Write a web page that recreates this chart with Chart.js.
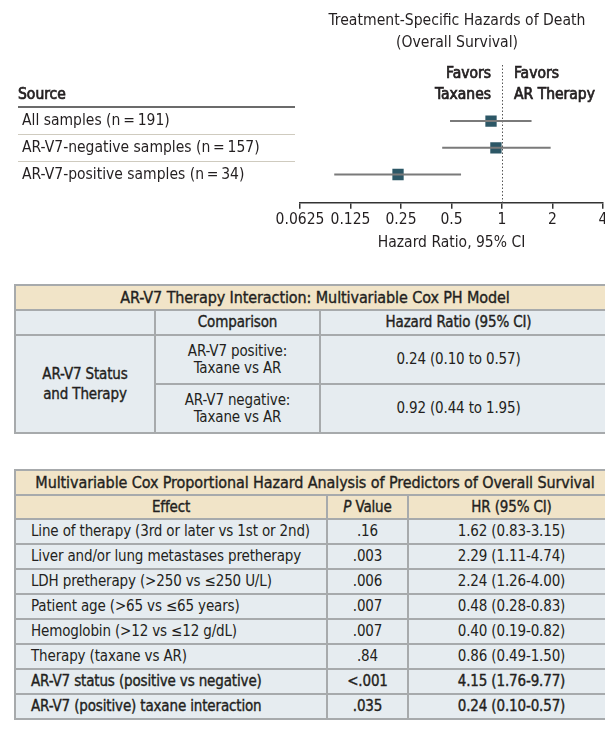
<!DOCTYPE html>
<html>
<head>
<meta charset="utf-8">
<script src="https://cdn.jsdelivr.net/npm/chart.js@4/dist/chart.umd.min.js"></script>
<style>
  html, body { margin: 0; padding: 0; background: #fff; }
  body { width: 605px; height: 740px; overflow: hidden; position: relative;
         font-family: 'Liberation Sans Narrow', 'DejaVu Sans Condensed', 'Roboto', sans-serif; color: #231f20; }
  #forest { position: absolute; left: 0; top: 0; width: 611px; height: 262px; }
  table { position: absolute; left: 14px; border-collapse: collapse; font-size: 15px; table-layout: fixed; letter-spacing: -0.15px; }
  td, th { border: 2px solid #a7aaac; padding: 0; text-align: center; font-weight: normal; line-height: 17px; }
  .semi { -webkit-text-stroke: 0.35px #231f20; }
  .ttl { font-size: 16px; letter-spacing: -0.1px; }
  .beige { background: #f1e4c8; }
  .blue td, td.blue { background: #e6ecf0; }
  #t1 { top: 284px; width: 600px; }
  #t2 { top: 469px; width: 600px; }
  #t2 td.eff { text-align: left; padding-left: 15px; }
  #t2 tr.row td { height: 23px; }
</style>
</head>
<body>
<canvas id="forest" width="611" height="262"></canvas>

<table id="t1">
  <colgroup><col style="width:140px"><col style="width:165px"><col style="width:295px"></colgroup>
  <tbody id="t1body"></tbody>
</table>

<table id="t2">
  <colgroup><col style="width:312px"><col style="width:81px"><col style="width:207px"></colgroup>
  <tbody id="t2body"></tbody>
</table>

<script>
// ─── Dados do forest plot ─────────────────────────────────
const ROW_LABELS = ['All samples (n\u2009=\u2009191)', 'AR-V7-negative samples (n\u2009=\u2009157)', 'AR-V7-positive samples (n\u2009=\u200934)'];
const HR  = [0.86, 0.92, 0.24];
const LO  = [0.49, 0.44, 0.10];
const HI  = [1.50, 1.95, 0.57];
const TICKS = [0.0625, 0.125, 0.25, 0.5, 1, 2, 4];

// ─── Dados das tabelas ───────────────────────────────────
const T1_TITLE = 'AR-V7 Therapy Interaction: Multivariable Cox PH Model';
const T1_GROUP = ['AR-V7 Status', 'and Therapy'];
const T1_COMPARISON = [['AR-V7 positive:', 'Taxane vs AR'], ['AR-V7 negative:', 'Taxane vs AR']];
const T1_HR = ['0.24 (0.10 to 0.57)', '0.92 (0.44 to 1.95)'];

const T2_TITLE = 'Multivariable Cox Proportional Hazard Analysis of Predictors of Overall Survival';
const T2_EFFECT = [
  'Line of therapy (3rd or later vs 1st or 2nd)',
  'Liver and/or lung metastases pretherapy',
  'LDH pretherapy (>250 vs \u2264250 U/L)',
  'Patient age (>65 vs \u226465 years)',
  'Hemoglobin (>12 vs \u226412 g/dL)',
  'Therapy (taxane vs AR)',
  'AR-V7 status (positive vs negative)',
  'AR-V7 (positive) taxane interaction',
];
const T2_P  = ['.16', '.003', '.006', '.007', '.007', '.84', '<.001', '.035'];
const T2_HR = ['1.62 (0.83-3.15)', '2.29 (1.11-4.74)', '2.24 (1.26-4.00)', '0.48 (0.28-0.83)',
               '0.40 (0.19-0.82)', '0.86 (0.49-1.50)', '4.15 (1.76-9.77)', '0.24 (0.10-0.57)'];
const T2_BOLD = [false, false, false, false, false, false, true, true];

const FONT = "'Liberation Sans Narrow', 'DejaVu Sans Condensed', Roboto, sans-serif";
const INK = '#231f20';

// ─── Tabelas ──────────────────────────────────────────────
function buildTables() {
  let h = `<tr class="beige"><td colspan="3" class="semi ttl" style="height:23px">${T1_TITLE}</td></tr>`;
  h += `<tr class="blue"><td style="height:23px"></td><td class="semi">Comparison</td><td class="semi" style="padding-right:18px">Hazard Ratio (95% CI)</td></tr>`;
  T1_COMPARISON.forEach((c, i) => {
    h += '<tr class="blue">';
    if (i === 0) h += `<td rowspan="2" class="semi" style="line-height:20px">${T1_GROUP.join('<br>')}</td>`;
    h += `<td style="height:47px">${c.join('<br>')}</td><td style="padding-right:18px">${T1_HR[i]}</td></tr>`;
  });
  document.getElementById('t1body').innerHTML = h;

  let g = `<tr class="beige"><td colspan="3" class="semi ttl" style="height:23px">${T2_TITLE}</td></tr>`;
  g += `<tr class="beige"><td class="semi" style="height:22px">Effect</td><td class="semi"><i>P</i> Value</td><td class="semi">HR (95% CI)</td></tr>`;
  T2_EFFECT.forEach((e, i) => {
    const s = T2_BOLD[i] ? ' semi' : '';
    g += `<tr class="blue row"><td class="eff${s}">${e}</td><td class="${s}">${T2_P[i]}</td><td class="${s}">${T2_HR[i]}</td></tr>`;
  });
  document.getElementById('t2body').innerHTML = g;
}
buildTables();

// texto "semibold": preenchimento + contorno fino
function semiText(ctx, txt, x, y) {
  ctx.fillText(txt, x, y);
  ctx.strokeText(txt, x, y);
}

// ─── Plugin: rótulos, linhas e cabeçalhos do forest plot ──
const forestDecor = {
  id: 'forestDecor',
  beforeDatasetsDraw(chart) {
    const { ctx, chartArea, scales: { x } } = chart;
    ctx.save();
    // linha pontilhada em HR = 1
    const x1 = Math.round(x.getPixelForValue(1)) + 0.5;
    ctx.strokeStyle = '#555';
    ctx.lineWidth = 1;
    ctx.setLineDash([1.5, 2]);
    ctx.beginPath(); ctx.moveTo(x1, chartArea.top); ctx.lineTo(x1, chartArea.bottom); ctx.stroke();
    ctx.restore();
  },
  afterDraw(chart) {
    const { ctx, scales: { x, y } } = chart;
    const x1 = x.getPixelForValue(1);
    ctx.save();
    ctx.fillStyle = INK;
    ctx.strokeStyle = INK;
    ctx.textBaseline = 'middle';

    // título
    ctx.font = `15.6px ${FONT}`;
    ctx.textAlign = 'center';
    ctx.fillText('Treatment-Specific Hazards of Death', 457, 21);
    ctx.fillText('(Overall Survival)', 457, 43);

    // favors
    ctx.font = `15.5px ${FONT}`;
    ctx.lineWidth = 0.7;
    ctx.textAlign = 'right';
    semiText(ctx, 'Favors', x1 - 11, 74);
    semiText(ctx, 'Taxanes', x1 - 11, 95);
    ctx.textAlign = 'left';
    semiText(ctx, 'Favors', x1 + 12, 74);
    semiText(ctx, 'AR Therapy', x1 + 12, 95);

    // source + linhas
    semiText(ctx, 'Source', 18, 95);
    ctx.strokeStyle = '#3a3a3a';
    ctx.lineWidth = 1.5;
    ctx.beginPath(); ctx.moveTo(18, 107); ctx.lineTo(295, 107); ctx.stroke();

    ctx.font = `15.5px ${FONT}`;
    ctx.strokeStyle = '#cfcbbf';
    ctx.lineWidth = 1;
    ROW_LABELS.forEach((lab, i) => {
      const py = y.getPixelForValue(i);
      ctx.fillText(lab, 22, py);
      if (i < ROW_LABELS.length - 1) {
        const sy = Math.round(y.getPixelForValue(i + 0.5)) + 0.5;
        ctx.beginPath(); ctx.moveTo(18, sy); ctx.lineTo(295, sy); ctx.stroke();
      }
    });
    ctx.restore();
  },
};

// ─── Forest plot ──────────────────────────────────────────
const whiskers = HR.map((v, i) => ({
  type: 'line',
  data: [{ x: LO[i], y: i }, { x: HI[i], y: i }],
  borderColor: '#7a7a7a',
  borderWidth: 2,
  pointRadius: 0,
  fill: false,
}));

new Chart(document.getElementById('forest'), {
  type: 'scatter',
  data: {
    datasets: [
      ...whiskers,
      {
        type: 'scatter',
        data: HR.map((v, i) => ({ x: v, y: i })),
        pointStyle: 'rect',
        pointRadius: 8,
        backgroundColor: '#2c5766',
        borderColor: '#2c5766',
        borderWidth: 0,
      },
    ],
  },
  options: {
    responsive: false, animation: false,
    layout: { padding: { left: 300, right: 3, top: 65, bottom: 10 } },
    scales: {
      x: {
        type: 'logarithmic',
        min: 0.0625, max: 4,
        afterBuildTicks: axis => { axis.ticks = TICKS.map(v => ({ value: v })); },
        ticks: {
          autoSkip: false, maxRotation: 0, padding: 2,
          color: INK, font: { family: FONT, size: 15.5 },
          callback: v => String(v),
        },
        grid: { drawOnChartArea: false, drawTicks: true, tickLength: 6, color: '#333', lineWidth: 1.5 },
        border: { display: true, color: '#333', width: 1.5 },
        title: {
          display: true, text: 'Hazard Ratio, 95% CI',
          color: INK, font: { family: FONT, size: 15.5 }, padding: { top: 2, bottom: 0 },
        },
      },
      y: {
        type: 'linear', reverse: true, min: -2.1, max: 3.06,
        display: false,
      },
    },
    plugins: { legend: { display: false }, tooltip: { enabled: false } },
  },
  plugins: [forestDecor],
});
</script>
</body>
</html>
